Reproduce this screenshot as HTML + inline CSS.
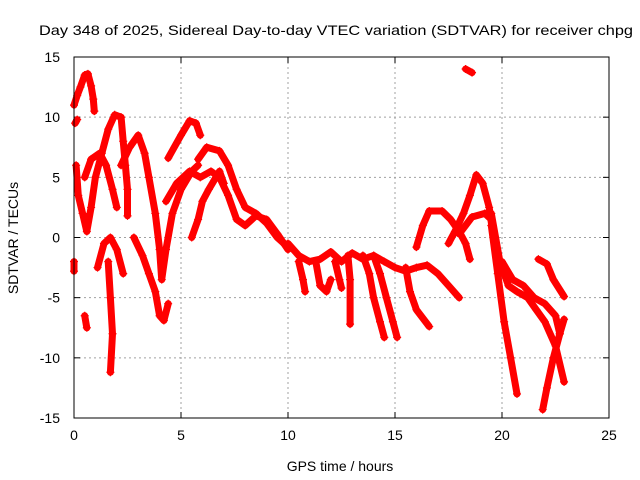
<!DOCTYPE html>
<html>
<head>
<meta charset="utf-8">
<style>
html,body{margin:0;padding:0;background:#fff;}
svg{display:block;font-family:"Liberation Sans",sans-serif;}
</style>
</head>
<body>
<svg id="chart" width="640" height="480" viewBox="0 0 640 480">
  <rect width="640" height="480" fill="#fff"/>
  <text x="336" y="35" font-size="14" text-anchor="middle" textLength="594" lengthAdjust="spacingAndGlyphs">Day 348 of 2025, Sidereal Day-to-day VTEC variation (SDTVAR) for receiver chpg</text>
  <g id="grid"></g>
  <g id="axes"></g>
  <g id="marks"></g>
  <rect x="74" y="57" width="535" height="361" fill="none" stroke="#000" stroke-width="1"/>
  <text x="340" y="471" font-size="14" text-anchor="middle">GPS time / hours</text>
  <text transform="translate(18,238) rotate(-90)" font-size="14" text-anchor="middle">SDTVAR / TECUs</text>
</svg>
<script>
const xTicks = [0, 5, 10, 15, 20, 25];
const yTicks = [-15, -10, -5, 0, 5, 10, 15];
const track1 = [[0,11],[0.15,11.8],[0.3,12.5],[0.5,13.5],[0.65,13.6],[0.8,12.6],[0.9,11.5],[0.95,10.5]];
const track2 = [[0.05,9.5],[0.15,9.8]];
const track3 = [[0.1,6],[0.2,3.5],[0.4,2],[0.6,0.5],[0.8,2.5],[1.0,5],[1.3,7],[1.6,9],[1.9,10.2],[2.2,10],[2.3,8],[2.4,6],[2.5,4],[2.5,1.8]];
const track4 = [[0.5,5],[0.8,6.5],[1.2,7],[1.5,6],[1.8,4],[2.0,2.5]];
const track5 = [[1.1,-2.5],[1.4,-0.5],[1.7,0],[2.0,-1],[2.3,-3]];
const track6 = [[1.6,-2],[1.7,-5],[1.8,-8],[1.7,-11.2]];
const track7 = [[0.5,-6.5],[0.6,-7.5]];
const track8 = [[2.2,6],[2.6,7.5],[3.0,8.5],[3.3,7],[3.5,5],[3.8,2],[4.0,-1],[4.1,-3.5],[4.3,-1],[4.6,2],[5.0,4],[5.5,5.5],[5.8,6.0]];
const track9 = [[2.8,0],[3.2,-1.5],[3.5,-3],[3.8,-4.5],[4.0,-6.5],[4.2,-6.9],[4.4,-5.5]];
const track10 = [[4.4,6.6],[5.0,8.5],[5.4,9.7],[5.7,9.5],[5.9,8.5]];
const track11 = [[5.8,6.5],[6.2,7.5],[6.8,7.2],[7.2,6],[7.6,4],[8,2.5],[8.5,2],[9,1.2],[9.5,0],[10,-0.8]];
const track12 = [[4.3,3],[4.8,4.5],[5.4,5.5],[5.9,5.0],[6.4,5.5],[6.8,5],[7.2,3.5],[7.6,1.5],[8,1.0],[8.5,1.8],[9,1.5],[9.5,0.3],[10,-1]];
const track13 = [[5.5,0],[5.8,1.5],[6.0,3],[6.3,4],[6.8,5.5],[7.0,4.5]];
const track14 = [[10,-0.5],[10.5,-1.5],[11,-2],[11.5,-1.8],[12,-1.2],[12.5,-2],[13,-1.3],[13.5,-1.8],[14,-1.5],[14.5,-2],[15,-2.5],[15.5,-2.8],[16,-2.5],[16.5,-2.3],[17,-3],[17.5,-4],[18,-5]];
const track15 = [[10.5,-2],[10.7,-3.5],[10.8,-4.5]];
const track16 = [[11.3,-2],[11.5,-4],[11.8,-4.5],[12,-3.5]];
const track17 = [[12.2,-2],[12.4,-3.5],[12.5,-4.2]];
const track18 = [[12.8,-1.5],[12.9,-3.5],[12.9,-7.2]];
const track19 = [[13.5,-1.5],[13.8,-3],[14,-5],[14.3,-7],[14.5,-8.3]];
const track20 = [[14.0,-1.5],[14.3,-3],[14.6,-5],[14.9,-7],[15.1,-8.3]];
const track21 = [[15.5,-2.5],[15.7,-4.5],[16,-6],[16.6,-7.4]];
const track22 = [[16.0,-0.8],[16.3,1],[16.6,2.2],[17.2,2.2],[17.6,1.5],[18,0.5],[18.3,-0.5],[18.5,-1.8]];
const track23 = [[17.5,-0.5],[17.8,0.5],[18.2,2],[18.5,3.5],[18.8,5.2],[19.1,4.5],[19.4,2.5],[19.6,0]];
const track24 = [[18,0.3],[18.6,1.7],[19.2,2.0],[19.5,1.5]];
const track25 = [[18.3,14],[18.6,13.7]];
const track26 = [[19.5,1],[19.8,-3],[20.1,-7],[20.4,-10],[20.7,-13]];
const track27 = [[19.5,2],[19.9,-2],[20.3,-4],[20.7,-4.5],[21.2,-5],[21.6,-6],[22,-7],[22.5,-9],[22.9,-12]];
const track28 = [[20,-2],[20.5,-3.5],[21,-4],[21.5,-5],[22,-5.5],[22.5,-6.5],[22.7,-8]];
const track29 = [[21.7,-1.8],[22.1,-2.2],[22.4,-3.5],[22.9,-4.9]];
const track30 = [[21.9,-14.3],[22.1,-12.5],[22.4,-10],[22.7,-8],[22.9,-6.8]];
const track31 = [[0,-2],[0,-2.8]];
const tracks = [track1,track2,track3,track4,track5,track6,track7,track8,track9,track10,track11,track12,track13,track14,track15,track16,track17,track18,track19,track20,track21,track22,track23,track24,track25,track26,track27,track28,track29,track30,track31];

const NS = "http://www.w3.org/2000/svg";
const L = 74, R = 609, T = 57, B = 418;
const xMin = 0, xMax = 25, yMin = -15, yMax = 15;
function xs(v){ return L + (v - xMin) / (xMax - xMin) * (R - L); }
function ys(v){ return B - (v - yMin) / (yMax - yMin) * (B - T); }
function mk(tag, attrs, parent){
  const e = document.createElementNS(NS, tag);
  for (const k in attrs) e.setAttribute(k, attrs[k]);
  parent.appendChild(e);
  return e;
}
const grid = document.getElementById('grid');
const axes = document.getElementById('axes');
const marks = document.getElementById('marks');

xTicks.forEach(t => {
  const x = xs(t);
  if (t > xMin && t < xMax) {
    const g = mk('line', {x1:x, y1:T, x2:x, y2:B, stroke:'#a0a0a0', 'stroke-dasharray':'2,3', 'stroke-width':1}, grid);
    
    
  }
  const tk = mk('line', {x1:x, y1:B, x2:x, y2:B-6, stroke:'#000'}, axes);
  
  
  const tk2 = mk('line', {x1:x, y1:T, x2:x, y2:T+6, stroke:'#000'}, axes);
  
  
  const lb = mk('text', {x:x, y:B+22, 'font-size':14, 'text-anchor':'middle'}, axes);
  lb.textContent = t;
  
  
});
yTicks.forEach(t => {
  const y = ys(t);
  if (t > yMin && t < yMax) {
    const g = mk('line', {x1:L, y1:y, x2:R, y2:y, stroke:'#a0a0a0', 'stroke-dasharray':'2,3', 'stroke-width':1}, grid);
    
    
  }
  const tk = mk('line', {x1:L, y1:y, x2:L+6, y2:y, stroke:'#000'}, axes);
  
  
  const tk2 = mk('line', {x1:R, y1:y, x2:R-6, y2:y, stroke:'#000'}, axes);
  
  
  const lb = mk('text', {x:L-14, y:y+5, 'font-size':14, 'text-anchor':'end'}, axes);
  lb.textContent = t;
  
  
});

tracks.forEach((tr, i) => {
  const g = mk('g', {}, marks);
  
  
  const pts = tr.map(p => xs(p[0]).toFixed(1) + ',' + ys(p[1]).toFixed(1)).join(' ');
  const pl = mk('polyline', {points:pts, fill:'none', stroke:'#ff0000', 'stroke-width':7, 'stroke-linejoin':'round', 'stroke-linecap':'round'}, g);
  
  
  tr.forEach(p => {
    const x = xs(p[0]), y = ys(p[1]);
    const m = mk('path', {d:`M${x-4},${y}H${x+4}M${x},${y-4}V${y+4}`, stroke:'#ff0000', 'stroke-width':1.2}, g);
    
    
  });
});
</script>
</body>
</html>
